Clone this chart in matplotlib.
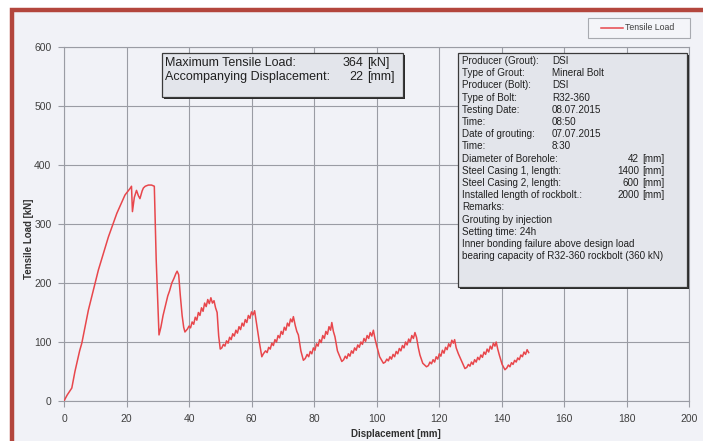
import matplotlib
matplotlib.use("Agg")
import matplotlib.pyplot as plt
from matplotlib.patches import Rectangle

plt.rcParams['font.family'] = ['Liberation Sans', 'DejaVu Sans']

# ---------------- data ----------------
disp_rise = [0, 1.0, 2.5, 3.5, 5.0, 5.7, 7.8, 11.0, 14.2, 16.9, 19.5, 21.1, 21.6, 21.9, 22.5, 23.2,
             23.8, 24.3, 25.0, 25.4, 26.0, 27.0, 28.0, 28.9, 29.5, 30.4]
load_rise = [0, 10, 22, 50, 85, 98, 154, 222, 278, 318, 349, 360, 364, 321, 345, 357,
             348, 343, 356, 361, 364, 366, 366, 364, 240, 112]

disp_h1 = [31.0, 31.7, 32.5, 33.2, 33.8, 34.5, 35.2, 35.8, 36.2, 36.7, 37.2, 37.8, 38.3, 38.7]
load_h1 = [125, 145, 163, 178, 187, 200, 208, 216, 220, 214, 180, 145, 125, 117]

disp_h2 = [39.5, 40.0, 40.5, 41.0, 41.5, 42.0, 42.5, 43.0, 43.5, 44.0, 44.5, 45.0, 45.5, 46.0, 46.5,
           47.0, 47.5, 48.0, 48.5, 49.0, 49.5, 50.0]
load_h2 = [122, 127, 124, 134, 130, 142, 137, 150, 145, 158, 152, 166, 160, 172, 165,
           175, 166, 170, 158, 150, 110, 88]

disp_h3 = [50.5, 51.0, 51.5, 52.0, 52.5, 53.0, 53.5, 54.0, 54.5, 55.0, 55.5, 56.0, 56.5, 57.0, 57.5,
           58.0, 58.5, 59.0, 59.5, 60.0, 60.5, 61.0, 61.5, 62.0, 62.5, 63.3]
load_h3 = [90, 96, 93, 102, 98, 108, 104, 114, 110, 120, 115, 126, 121, 132, 127,
           138, 133, 145, 140, 151, 146, 153, 135, 118, 100, 75]

disp_h4 = [63.8, 64.5, 65.0, 65.5, 66.0, 66.5, 67.0, 67.5, 68.0, 68.5, 69.0, 69.5, 70.0, 70.5, 71.0,
           71.5, 72.0, 72.5, 73.0, 73.4, 74.0, 74.5, 75.0, 75.8, 76.6]
load_h4 = [80, 85, 82, 91, 88, 98, 94, 104, 100, 111, 107, 118, 113, 125, 120,
           132, 127, 139, 134, 143, 128, 118, 112, 85, 69]

disp_h5 = [77.2, 77.8, 78.3, 78.8, 79.3, 79.8, 80.3, 80.8, 81.3, 81.8, 82.3, 82.8, 83.3, 83.8, 84.3,
           84.8, 85.3, 85.7, 86.2, 86.7, 87.5, 88.9]
load_h5 = [72, 79, 75, 84, 80, 90, 86, 97, 93, 104, 99, 111, 106, 118, 113,
           126, 120, 133, 118, 109, 85, 67]

disp_h6 = [89.5, 90.0, 90.5, 91.0, 91.5, 92.0, 92.5, 93.0, 93.5, 94.0, 94.5, 95.0, 95.5, 96.0, 96.5,
           97.0, 97.5, 98.0, 98.5, 99.0, 99.5, 100.0, 101.0, 102.2]
load_h6 = [70, 76, 72, 80, 76, 85, 81, 90, 86, 95, 91, 100, 96, 106, 101,
           111, 106, 116, 110, 120, 106, 95, 75, 64]

disp_h7 = [102.8, 103.3, 103.8, 104.3, 104.8, 105.3, 105.8, 106.3, 106.8, 107.3, 107.8, 108.3, 108.8,
           109.3, 109.8, 110.3, 110.8, 111.3, 111.8, 112.3, 112.8, 113.4, 113.9, 114.8, 116.0]
load_h7 = [66, 71, 68, 75, 71, 79, 75, 84, 80, 89, 85, 94, 90,
           100, 95, 105, 100, 111, 106, 116, 108, 90, 78, 64, 58]

disp_h8 = [116.6, 117.1, 117.6, 118.1, 118.6, 119.1, 119.6, 120.1, 120.6, 121.1, 121.6, 122.1, 122.6,
           123.1, 123.6, 124.1, 124.6, 125.0, 125.5, 126.2, 127.3, 128.3]
load_h8 = [60, 66, 63, 70, 66, 75, 71, 80, 76, 86, 81, 91, 87,
           97, 92, 103, 98, 104, 90, 80, 67, 55]

disp_h9 = [128.9, 129.4, 129.9, 130.4, 130.9, 131.4, 131.9, 132.4, 132.9, 133.4, 133.9, 134.4, 134.9,
           135.4, 135.9, 136.4, 136.9, 137.4, 137.9, 138.3, 138.8, 139.3, 140.2, 141.1]
load_h9 = [57, 62, 59, 66, 62, 70, 66, 74, 70, 78, 74, 83, 79,
           88, 83, 93, 88, 98, 93, 100, 88, 78, 62, 53]

disp_h10 = [141.7, 142.2, 142.7, 143.2, 143.7, 144.2, 144.7, 145.2, 145.7, 146.2, 146.7, 147.2, 147.7,
            148.2, 148.7]
load_h10 = [56, 61, 58, 65, 62, 69, 66, 73, 70, 78, 75, 83, 79, 87, 82]

displacement = (disp_rise + disp_h1 + disp_h2 + disp_h3 + disp_h4 + disp_h5 + disp_h6 + disp_h7
                + disp_h8 + disp_h9 + disp_h10)
tensile_load = (load_rise + load_h1 + load_h2 + load_h3 + load_h4 + load_h5 + load_h6 + load_h7
                + load_h8 + load_h9 + load_h10)

x_ticks = [0, 20, 40, 60, 80, 100, 120, 140, 160, 180, 200]
y_ticks = [0, 100, 200, 300, 400, 500, 600]

summary_labels = ["Maximum Tensile Load:", "Accompanying Displacement:"]
summary_values = ["364", "22"]
summary_units = ["[kN]", "[mm]"]

info_pairs = [("Producer (Grout):", "DSI"), ("Type of Grout:", "Mineral Bolt"),
              ("Producer (Bolt):", "DSI"), ("Type of Bolt:", "R32-360"),
              ("Testing Date:", "08.07.2015"), ("Time:", "08:50"),
              ("Date of grouting:", "07.07.2015"), ("Time:", "8:30")]
info_dims = [("Diameter of Borehole:", "42", "[mm]"),
             ("Steel Casing 1, length:", "1400", "[mm]"),
             ("Steel Casing 2, length:", "600", "[mm]"),
             ("Installed length of rockbolt.:", "2000", "[mm]")]
info_remarks = ["Remarks:", "Grouting by injection", "Setting time: 24h",
                "Inner bonding failure above design load",
                "bearing capacity of R32-360 rockbolt (360 kN)"]

# ---------------- figure ----------------
W, H = 703, 441
fig = plt.figure(figsize=(W / 100, H / 100), dpi=100, facecolor='white')


def fx(px):
    return px / W


def fy(py):
    return 1 - py / H


# photo frame (red-brown border on left/top)
fig.patches.append(Rectangle((fx(12), fy(460)), fx(760), fy(10) - fy(460),
                             transform=fig.transFigure, facecolor='#f1f2f7',
                             edgecolor='#b3463d', linewidth=3.2, zorder=-5))

ax = fig.add_axes([fx(64), fy(401), fx(689) - fx(64), fy(47) - fy(401)])
ax.set_zorder(1)
ax.set_facecolor('#f1f2f7')
ax.plot(displacement, tensile_load, color='#e8474c', lw=1.1, label='Tensile Load', zorder=3)
ax.set_xlim(0, 200)
ax.set_ylim(0, 600)
ax.set_xticks(x_ticks)
ax.set_yticks(y_ticks)
ax.grid(True, color='#9a9ca4', lw=0.8)
ax.set_axisbelow(True)
for s in ax.spines.values():
    s.set_color('#9a9ca4')
    s.set_linewidth(0.8)
ax.tick_params(direction='out', length=4, color='#9a9ca4', labelsize=7.5,
               labelcolor='#404040', pad=5)
fig.text(fx(396), fy(434), "Displacement [mm]", ha='center', va='center',
         fontsize=7, fontweight='bold', color='#303030')
fig.text(fx(29), fy(239), "Tensile Load [kN]", ha='center', va='center',
         fontsize=7, fontweight='bold', color='#303030', rotation=90)

# legend box
fig.patches.append(Rectangle((fx(588), fy(38)), fx(690) - fx(588), fy(18) - fy(38),
                             transform=fig.transFigure, facecolor='#f4f5f9',
                             edgecolor='#a8aab0', linewidth=0.8, zorder=2))
fig.lines.append(plt.Line2D([fx(601), fx(623)], [fy(28), fy(28)], transform=fig.transFigure,
                            color='#e8474c', lw=1.1, zorder=3))
fig.text(fx(625), fy(28), "Tensile Load", ha='left', va='center', fontsize=6.3,
         color='#404040', zorder=3)


def shadow_box(x0, y0, x1, y1):
    fig.patches.append(Rectangle((fx(x0 + 2), fy(y1 + 2)), fx(x1) - fx(x0), fy(y0) - fy(y1),
                                 transform=fig.transFigure, facecolor='#2a2a2a',
                                 edgecolor='none', zorder=4))
    fig.patches.append(Rectangle((fx(x0), fy(y1)), fx(x1) - fx(x0), fy(y0) - fy(y1),
                                 transform=fig.transFigure, facecolor='#e3e5eb',
                                 edgecolor='#3a3a3a', linewidth=0.9, zorder=5))


# summary box
shadow_box(162, 53, 403, 97)
for i, (lab, val, unit) in enumerate(zip(summary_labels, summary_values, summary_units)):
    yy = 63 + i * 14
    fig.text(fx(165), fy(yy), lab, ha='left', va='center', fontsize=9, color='#202020', zorder=6)
    fig.text(fx(363), fy(yy), val, ha='right', va='center', fontsize=9, color='#202020', zorder=6)
    fig.text(fx(367), fy(yy), unit, ha='left', va='center', fontsize=9, color='#202020', zorder=6)

# info box
shadow_box(458, 53, 687, 287)
fs = 7.1
line_h = 12.2
row = 0
for lab, val in info_pairs:
    yy = 61 + row * line_h
    fig.text(fx(462), fy(yy), lab, ha='left', va='center', fontsize=fs, color='#202020', zorder=6)
    fig.text(fx(552), fy(yy), val, ha='left', va='center', fontsize=fs, color='#202020', zorder=6)
    row += 1
for lab, val, unit in info_dims:
    yy = 61 + row * line_h
    fig.text(fx(462), fy(yy), lab, ha='left', va='center', fontsize=fs, color='#202020', zorder=6)
    fig.text(fx(639), fy(yy), val, ha='right', va='center', fontsize=fs, color='#202020', zorder=6)
    fig.text(fx(642), fy(yy), unit, ha='left', va='center', fontsize=fs, color='#202020', zorder=6)
    row += 1
for lab in info_remarks:
    yy = 61 + row * line_h
    fig.text(fx(462), fy(yy), lab, ha='left', va='center', fontsize=fs, color='#202020', zorder=6)
    row += 1

fig.savefig("out.png", dpi=100, facecolor=fig.get_facecolor())
